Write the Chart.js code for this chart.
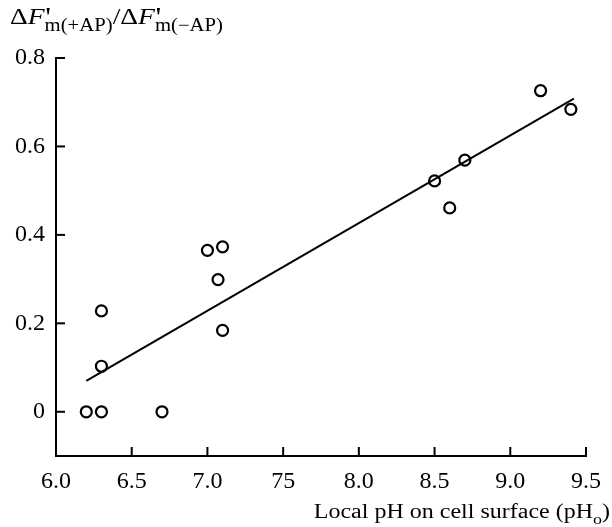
<!DOCTYPE html>
<html>
<head>
<meta charset="utf-8">
<script src="https://cdn.jsdelivr.net/npm/chart.js@4.4.0/dist/chart.umd.min.js"></script>
<style>
  html, body { margin: 0; padding: 0; background: #fff; }
</style>
</head>
<body>
<canvas id="phChart" width="612" height="527"></canvas>
<script>
// измеренные точки
const phValues = [6.2, 6.3, 6.7, 6.3, 6.3, 7.0, 7.1, 7.07, 7.1, 8.5, 8.6, 8.7, 9.2, 9.4];
const ratioValues = [0, 0, 0, 0.103, 0.228, 0.365, 0.373, 0.299, 0.184, 0.522, 0.461, 0.569, 0.726, 0.684];
// линия регрессии
const fitPh = [6.2, 9.42];
const fitRatio = [0.07, 0.708];
// подписи осей
const xTicks = [6.0, 6.5, 7.0, 7.5, 8.0, 8.5, 9.0, 9.5];
const xTickLabels = ['6.0', '6.5', '7.0', '75', '8.0', '8.5', '9.0', '9.5'];
const yTicks = [0, 0.2, 0.4, 0.6, 0.8];
const yTickLabels = ['0', '0.2', '0.4', '0.6', '0.8'];

const serif = '"Liberation Serif", "DejaVu Serif", serif';

// засечки внутрь графика
const inwardTicks = {
    id: 'inwardTicks',
    afterDatasetsDraw(chart) {
        const { ctx, chartArea, scales } = chart;
        ctx.save();
        ctx.strokeStyle = '#000';
        ctx.lineWidth = 2;
        scales.x.ticks.forEach(t => {
            const px = scales.x.getPixelForValue(t.value);
            ctx.beginPath();
            ctx.moveTo(px, chartArea.bottom);
            ctx.lineTo(px, chartArea.bottom - 9);
            ctx.stroke();
        });
        scales.y.ticks.forEach(t => {
            const py = scales.y.getPixelForValue(t.value);
            ctx.beginPath();
            ctx.moveTo(chartArea.left, py);
            ctx.lineTo(chartArea.left + 9, py);
            ctx.stroke();
        });
        ctx.restore();
    }
};

// заголовки осей с индексами (в оригинале шрифт немного растянут по ширине)
const axisTitles = {
    id: 'axisTitles',
    afterDraw(chart) {
        const ctx = chart.ctx;
        ctx.save();
        ctx.fillStyle = '#000';
        ctx.textBaseline = 'alphabetic';
        ctx.textAlign = 'left';
        const big = '24px ' + serif;
        const bigIt = 'italic 24px ' + serif;
        const prime = '28px ' + serif;
        const small = '18px ' + serif;

        // ось Y
        const sy = 1.15;
        ctx.save();
        ctx.translate(10, 0);
        ctx.scale(sy, 1);
        let x = 0;
        const base = 23.5;
        function part(text, font, dy) {
            ctx.font = font;
            ctx.fillText(text, x, base + dy);
            x += ctx.measureText(text).width;
        }
        function deltaF(sub) {
            part('\u0394', big, 0);
            part('F', bigIt, 0);
            ctx.font = prime;
            ctx.fillText("'", x + 0.5, base + 2.5);
            part(sub, small, 7.5);
        }
        deltaF('m(+AP)');
        part('/', big, 0);
        deltaF('m(\u2212AP)');
        ctx.restore();

        // ось X, выровнена вправо
        const sx = 1.2;
        const xf = '20px ' + serif;
        const xs = '15px ' + serif;
        const right = 610;
        const xb = 517.5;
        ctx.font = xf;
        const w1 = ctx.measureText('Local pH on cell surface (pH').width;
        const w3 = ctx.measureText(')').width;
        ctx.font = xs;
        const w2 = ctx.measureText('o').width;
        ctx.save();
        ctx.translate(right - (w1 + w2 + w3) * sx, 0);
        ctx.scale(sx, 1);
        ctx.font = xf;
        ctx.fillText('Local pH on cell surface (pH', 0, xb);
        ctx.font = xs;
        ctx.fillText('o', w1, xb + 6);
        ctx.font = xf;
        ctx.fillText(')', w1 + w2, xb);
        ctx.restore();
        ctx.restore();
    }
};

new Chart(document.getElementById('phChart'), {
    type: 'scatter',
    data: {
        datasets: [{
            data: phValues.map((v, i) => ({ x: v, y: ratioValues[i] })),
            pointStyle: 'circle',
            pointRadius: 5.5,
            pointBorderWidth: 2.2,
            pointBackgroundColor: 'rgba(255,255,255,0)',
            pointBorderColor: '#000',
            order: 1
        }, {
            type: 'line',
            data: fitPh.map((v, i) => ({ x: v, y: fitRatio[i] })),
            borderColor: '#000',
            borderWidth: 2,
            pointRadius: 0,
            fill: false,
            order: 2
        }]
    },
    options: {
        responsive: false,
        animation: false,
        devicePixelRatio: 1,
        layout: {
            padding: { top: 58, right: 18, left: 0, bottom: 0 }
        },
        plugins: {
            legend: { display: false },
            tooltip: { enabled: false }
        },
        scales: {
            x: {
                type: 'linear',
                min: 6.0,
                max: 9.5,
                afterBuildTicks: scale => { scale.ticks = xTicks.map(v => ({ value: v })); },
                afterFit: scale => { scale.height = 71; },
                grid: { display: false, drawTicks: false },
                border: { display: true, color: '#000', width: 2 },
                ticks: {
                    color: '#000',
                    padding: 11,
                    maxRotation: 0,
                    font: { family: serif, size: 24 },
                    callback: (v, i) => xTickLabels[i]
                }
            },
            y: {
                type: 'linear',
                min: -0.1,
                max: 0.8,
                afterBuildTicks: scale => { scale.ticks = yTicks.map(v => ({ value: v })); },
                afterFit: scale => { scale.width = 56; },
                grid: { display: false, drawTicks: false },
                border: { display: true, color: '#000', width: 2 },
                ticks: {
                    color: '#000',
                    padding: 11,
                    font: { family: serif, size: 24 },
                    callback: (v, i) => yTickLabels[i]
                }
            }
        }
    },
    plugins: [inwardTicks, axisTitles]
});
</script>
</body>
</html>
